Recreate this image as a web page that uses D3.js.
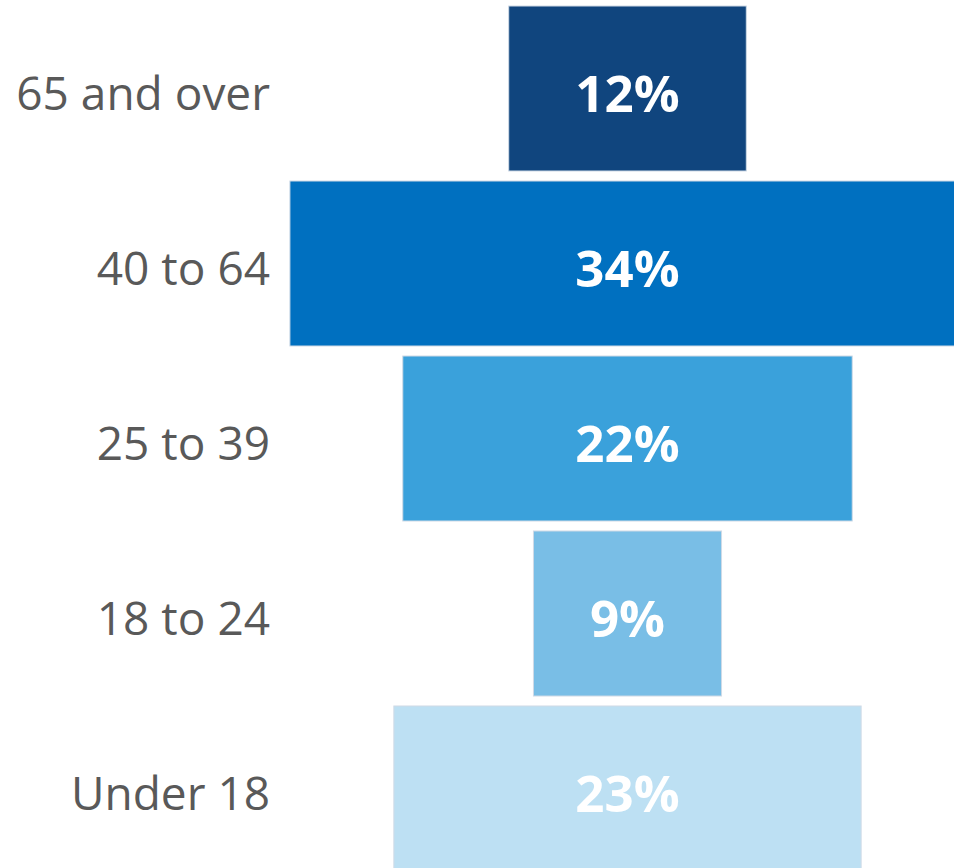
<!DOCTYPE html>
<html>
<head>
<meta charset="utf-8">
<script src="https://cdn.jsdelivr.net/npm/d3@7"></script>
<style>
  html, body { margin: 0; padding: 0; background: #ffffff; overflow: hidden; }
  svg { display: block; }
</style>
</head>
<body>
<svg id="chart" width="954" height="868"></svg>
<script>
// Data (top to bottom)
const categories = ["65 and over", "40 to 64", "25 to 39", "18 to 24", "Under 18"];
const values = [12.0, 34.1, 22.7, 9.5, 23.6];           // bar widths (share, %) as drawn
const valueLabels = ["12%", "34%", "22%", "9%", "23%"]; // printed labels
const colors = ["#10457e", "#0070c0", "#3aa1db", "#79bee6", "#bde0f3"];

const svg = d3.select("#chart");

const centerX = 627.5;
const x = d3.scaleLinear().domain([0, 1]).range([0, 19.8]);
const y = d3.scaleBand().domain(categories).range([1, 876])
  .paddingInner(10 / 175).paddingOuter(5 / 175);

const rows = svg.selectAll("g.row")
  .data(categories.map((c, i) => ({ c, v: values[i], lbl: valueLabels[i], col: colors[i] })))
  .join("g").attr("class", "row");

rows.append("rect")
  .attr("x", d => centerX - x(d.v) / 2)
  .attr("y", d => y(d.c))
  .attr("width", d => x(d.v))
  .attr("height", y.bandwidth())
  .attr("fill", d => d.col)
  .attr("stroke", "#cfdae6")
  .attr("stroke-width", 1);

rows.append("text")
  .attr("x", centerX)
  .attr("y", d => y(d.c) + y.bandwidth() / 2 + 23)
  .attr("text-anchor", "middle")
  .attr("font-family", "'Open Sans', 'Noto Sans', sans-serif")
  .attr("font-weight", 700)
  .attr("font-size", 51)
  .attr("fill", "#ffffff")
  .text(d => d.lbl);

rows.append("text")
  .attr("x", 270)
  .attr("y", d => y(d.c) + y.bandwidth() / 2 + 21)
  .attr("text-anchor", "end")
  .attr("font-family", "'Open Sans', 'Noto Sans', sans-serif")
  .attr("font-size", 46)
  .attr("fill", "#595959")
  .text(d => d.c);
</script>
</body>
</html>
